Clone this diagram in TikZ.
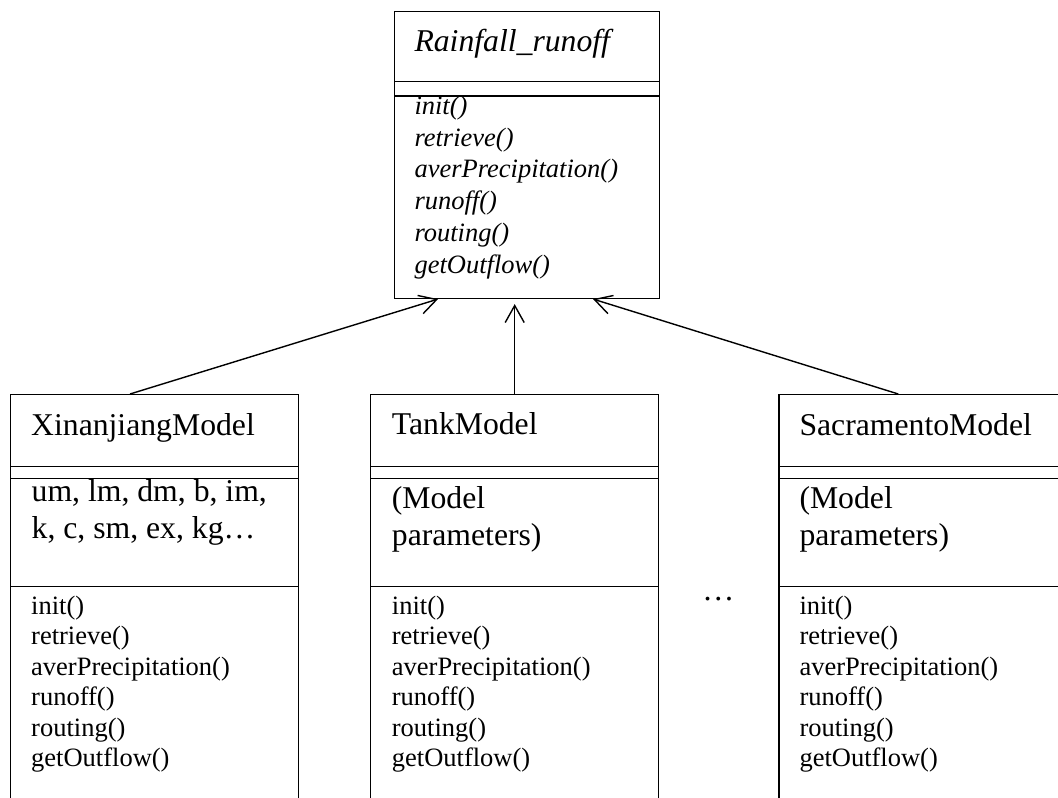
\documentclass[tikz,border=0pt]{standalone}
\usepackage{fontspec}
\setmainfont{Liberation Serif}[
  UprightFont=Liberation Serif,
  ItalicFont=Liberation Serif Italic,
  BoldFont=Liberation Serif Bold]
\newfontfamily\uitalic{Liberation Serif Italic}
\usetikzlibrary{arrows.meta,calc}
\begin{document}
\begin{tikzpicture}[x=1pt,y=-1pt,
  box/.style={draw,line width=1.4pt,rectangle,inner sep=0pt,anchor=north west},
  sepline/.style={line width=1.4pt},
  big/.style={font=\fontsize{31.7}{36}\selectfont,inner sep=0pt,anchor=base west},
  small/.style={font=\fontsize{26.5}{30}\selectfont,inner sep=0pt,anchor=base west},
  bigit/.style={font=\uitalic\fontsize{31.7}{36}\selectfont,inner sep=0pt,anchor=base west},
  smallit/.style={font=\uitalic\fontsize{26.5}{30}\selectfont,inner sep=0pt,anchor=base west},
  inh/.style={line width=1.4pt,-{Straight Barb[length=17pt,width=19pt,line width=1.4pt]}}]
\useasboundingbox (0,0) rectangle (1058,798);
\clip (0,0) rectangle (1058,798);

% ---- abstract class
\node[box,minimum width=264.7pt,minimum height=287pt] (rr) at (394,10.7) {};
\draw[sepline] ($(rr.north west)+(0,71)$) -- ($(rr.north east)+(0,71)$);
\draw[sepline] ($(rr.north west)+(0,85.3)$) -- ($(rr.north east)+(0,85.3)$);
\node[bigit] (rrt) at (414.3,51.7) {Rainfall\_runoff};
\foreach \m [count=\i from 0] in {init(),retrieve(),averPrecipitation(),runoff(),routing(),getOutflow()}
  \node[smallit] (rrm\i) at (414.3,114.3+31.8*\i) {\m};

% ---- concrete classes
\foreach \nm/\x/\tx in {xin/10/31, tank/370/391.7, sac/778.3/799.3}{
  \node[box,minimum width=288pt,minimum height=440pt] (\nm) at (\x,394) {};
  \draw[sepline] ($(\nm.north west)+(0,72.3)$) -- ($(\nm.north east)+(0,72.3)$);
  \draw[sepline] ($(\nm.north west)+(0,84.5)$) -- ($(\nm.north east)+(0,84.5)$);
  \draw[sepline] ($(\nm.north west)+(0,192.3)$) -- ($(\nm.north east)+(0,192.3)$);
  \foreach \m [count=\i from 0] in {init(),retrieve(),averPrecipitation(),runoff(),routing(),getOutflow()}
    \node[small] (\nm m\i) at (\tx,614.5+30.4*\i) {\m};
}
\node[big] (xint) at (31,435) {XinanjiangModel};
\node[big] (xina1) at (31.5,501.7) {um, lm, dm, b, im,};
\node[big] (xina2) at (31.5,538.3) {k, c, sm, ex, kg…};
\node[big] (tankt) at (391.7,434) {TankModel};
\node[big] (tanka1) at (391.7,508.3) {(Model};
\node[big] (tanka2) at (391.7,545) {parameters)};
\node[big] (sact) at (799.3,435) {SacramentoModel};
\node[big] (saca1) at (799.3,508.3) {(Model};
\node[big] (saca2) at (799.3,545) {parameters)};

\node[font=\fontsize{32}{36}\selectfont,inner sep=0pt,anchor=base] (dots) at (718.3,600) {…};

% ---- generalisation arrows
\coordinate (xs) at ($(xin.north west)+(120,0)$);
\coordinate (xe) at ($(rr.south west)+(44,0)$);
\coordinate (ss) at ($(sac.north west)+(120,0)$);
\coordinate (se) at ($(rr.south east)+(-67,0)$);
\draw[inh] (xs) -- (xe);
\draw[inh,shorten >=5pt] (tank.north) -- (tank.north |- rr.south);
\draw[inh] (ss) -- (se);
\end{tikzpicture}
\end{document}
